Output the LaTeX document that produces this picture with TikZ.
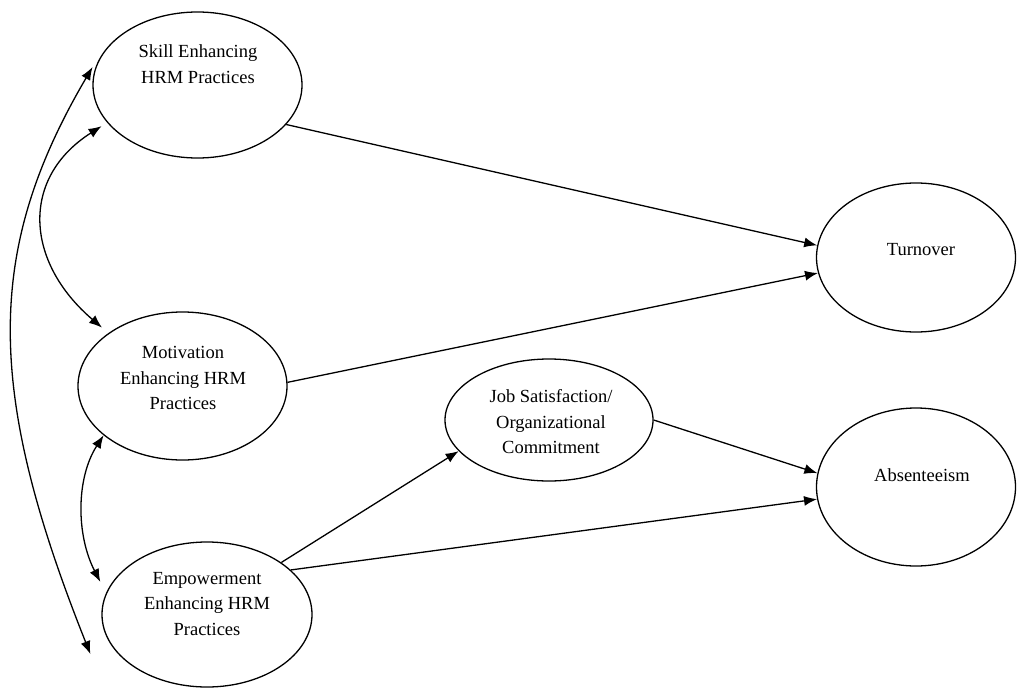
\documentclass[tikz,border=0pt]{standalone}
\usepackage{fontspec}
\setmainfont{Liberation Serif}
\usetikzlibrary{arrows.meta,shapes.geometric}
\begin{document}
\begin{tikzpicture}[x=1pt,y=-1pt,
  ell/.style={draw, ellipse, line width=1.3pt, inner sep=0pt},
  lbl/.style={align=center, font=\fontsize{18.5}{25.5}\selectfont, inner sep=0pt},
  con/.style={line width=1.3pt, -{Latex[length=13pt,width=10pt]}},
  bicon/.style={line width=1.3pt, {Latex[length=13pt,width=10pt]}-{Latex[length=13pt,width=10pt]}}]
\useasboundingbox (0,0) rectangle (1017,688);
% ellipses
\node[ell, minimum width=209pt, minimum height=146pt] (skill) at (197.5,85) {};
\node[ell, minimum width=209pt, minimum height=148pt] (mot) at (182.5,386) {};
\node[ell, minimum width=210pt, minimum height=145pt] (emp) at (207,614.5) {};
\node[ell, minimum width=208pt, minimum height=122pt] (job) at (549,420) {};
\node[ell, minimum width=199pt, minimum height=149pt] (turn) at (916,257.5) {};
\node[ell, minimum width=199pt, minimum height=158pt] (abs) at (916,487) {};
% labels
\node[lbl] (skillT) at (198,64) {Skill Enhancing\\HRM Practices};
\node[lbl] (motT) at (183,378) {Motivation\\Enhancing HRM\\Practices};
\node[lbl] (empT) at (207,604) {Empowerment\\Enhancing HRM\\Practices};
\node[lbl] (jobT) at (551,422) {Job Satisfaction/\\Organizational\\Commitment};
\node[lbl] (turnT) at (921,250) {Turnover};
\node[lbl] (absT) at (922,475) {Absenteeism};
% straight connectors
\draw[con] (skill.-24) -- (turn.173.6);
\draw[con] (mot.2.7) -- (turn.-171.4);
\draw[con] (emp.35.2) -- (job.199.1);
\draw[con] (job.0) -- (abs.172.1);
\draw[con] (emp.28.2) -- (abs.-173.9);
% curved correlations
\draw[bicon] ([shift={(-6,3)}]skill.203.2) .. controls (20,178) and (25,262) .. ([shift={(-7,-5)}]mot.144.2);
\draw[bicon] (mot.-148.6) .. controls (76,478) and (76,535) .. ([shift={(-10,-3)}]emp.163.6);
\draw[bicon] ([shift={(-3,0)}]skill.170.2) .. controls (-15,250) and (-15,390) .. ([shift={(-22,7)}]emp.-161.8);
\end{tikzpicture}
\end{document}
